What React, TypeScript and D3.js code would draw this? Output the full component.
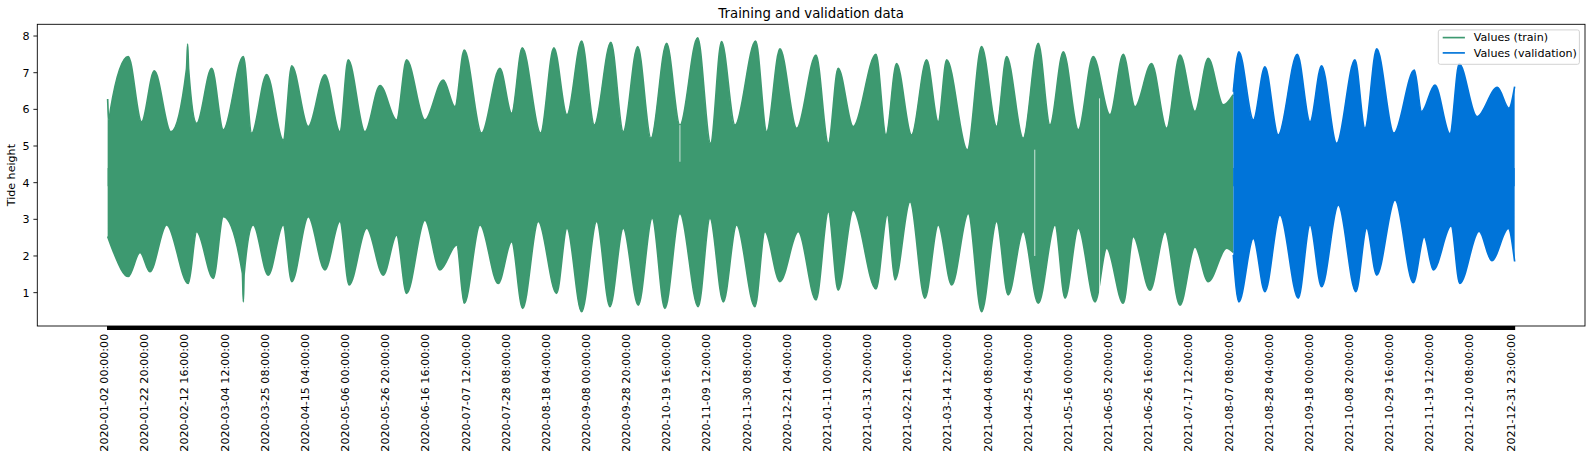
import * as d3 from "d3";

// tide record: hourly samples from 2020-01-02 00:00 to 2021-12-31 23:00
const START = "2020-01-02 00:00:00";
const N_HOURS = 17520;
const TRAIN_HOURS = 14016;

// envelope of the hourly series, read as [day since start, tide height]
const trainUpper: [number, number][] = [
  [0.0, 6.28], [0.6, 5.7], [1.5, 6.0], [10.7, 7.44], [17.6, 5.66], [24.2, 7.05], [32.8, 5.39],
  [40.9, 7.1], [41.5, 7.78], [42.0, 7.1], [46.2, 5.62], [54.0, 7.12], [60.0, 5.44], [70.4, 7.44],
  [74.7, 5.35], [82.5, 6.95], [91.1, 5.16], [95.5, 7.19], [104.1, 5.53], [112.7, 6.94],
  [120.5, 5.39], [124.8, 7.35], [133.5, 5.39], [141.3, 6.65], [149.9, 5.71], [155.1, 7.35],
  [164.6, 5.71], [174.1, 6.8], [180.2, 6.07], [185.0, 7.62], [194.0, 5.35], [203.5, 7.12],
  [209.6, 5.89], [215.1, 7.68], [224.6, 5.35], [231.5, 7.68], [238.3, 5.85], [245.9, 7.86],
  [252.5, 5.57], [261.1, 7.83], [267.5, 5.39], [275.0, 7.71], [281.9, 5.21], [290.0, 7.8],
  [296.9, 5.57], [306.1, 7.95], [312.8, 5.07], [318.5, 7.85], [325.5, 5.57], [336.2, 7.86],
  [341.9, 5.39], [348.8, 7.65], [357.5, 5.48], [367.5, 7.48], [373.9, 5.07], [379.0, 7.12],
  [386.8, 5.53], [398.6, 7.5], [403.8, 5.3], [409.3, 7.25], [417.1, 5.3], [424.9, 7.35],
  [430.9, 5.66], [435.3, 7.35], [446.0, 4.89], [453.4, 7.71], [461.2, 5.53], [466.4, 7.44],
  [475.0, 5.21], [482.8, 7.8], [488.9, 5.57], [495.8, 7.57], [503.6, 5.44], [511.3, 7.44],
  [520.0, 5.85], [526.9, 7.5], [533.0, 6.07], [541.6, 7.25], [549.4, 5.48], [556.3, 7.48],
  [564.1, 5.94], [571.0, 7.39], [578.8, 6.12], [583.96, 6.4],
];
const trainLower: [number, number][] = [
  [0.0, 2.53], [2.7, 2.15], [10.7, 1.44], [16.8, 2.1], [21.9, 1.57], [30.6, 2.85], [41.8, 1.25],
  [46.2, 2.66], [54.8, 1.39], [60.0, 3.07], [69.9, 1.53], [70.4, 0.75], [70.8, 1.5], [75.5, 2.85],
  [83.3, 1.48], [91.1, 2.85], [95.5, 1.3], [104.1, 3.07], [112.7, 1.62], [120.5, 2.94],
  [125.3, 1.21], [134.4, 2.76], [143.0, 1.48], [149.9, 2.57], [155.1, 0.98], [164.6, 2.98],
  [172.4, 1.62], [181.1, 2.3], [185.0, 0.71], [193.2, 2.85], [202.6, 1.25], [209.6, 2.39],
  [215.3, 0.57], [223.4, 2.94], [232.9, 0.98], [238.3, 2.76], [245.9, 0.48], [253.7, 2.94],
  [260.6, 0.62], [267.5, 2.76], [275.3, 0.66], [282.5, 3.03], [289.1, 0.57], [296.9, 3.16],
  [306.4, 0.62], [312.5, 3.03], [319.4, 0.75], [326.3, 2.85], [335.8, 0.62], [341.0, 2.66],
  [348.8, 1.3], [358.3, 2.66], [367.5, 0.8], [373.9, 3.21], [379.0, 1.07], [386.8, 3.25],
  [398.6, 1.1], [404.5, 3.12], [408.5, 1.35], [416.3, 3.48], [424.0, 0.85], [430.9, 2.85],
  [437.9, 1.21], [446.5, 3.16], [453.4, 0.48], [461.2, 2.94], [467.2, 0.94], [475.0, 2.66],
  [482.8, 0.71], [491.5, 2.85], [496.7, 0.85], [503.6, 2.76], [512.3, 0.75], [518.3, 2.21],
  [526.9, 0.71], [532.1, 2.53], [540.8, 1.07], [548.6, 2.66], [556.3, 0.66], [564.1, 2.25],
  [571.0, 1.3], [580.5, 2.21], [583.96, 2.1],
];
const validUpper: [number, number][] = [
  [584.0, 6.48], [586.9, 7.57], [594.4, 5.71], [600.4, 7.16], [607.3, 5.3], [617.2, 7.5],
  [623.8, 5.66], [629.8, 7.19], [637.6, 5.07], [647.1, 7.35], [652.3, 5.48], [658.4, 7.65],
  [667.3, 5.35], [677.9, 7.07], [681.7, 5.94], [688.6, 6.66], [696.4, 5.33], [701.2, 7.24],
  [710.4, 5.8], [721.0, 6.6], [727.0, 6.03], [729.96, 6.62],
];
const validLower: [number, number][] = [
  [584.0, 2.03], [586.9, 0.75], [594.4, 2.48], [600.4, 1.03], [608.2, 3.12], [617.7, 0.85],
  [623.8, 2.85], [629.8, 1.16], [638.5, 3.39], [647.6, 1.03], [653.2, 2.76], [658.4, 1.48],
  [667.9, 3.53], [677.4, 1.27], [683.0, 2.52], [687.8, 1.62], [697.0, 2.82], [701.5, 1.25],
  [711.5, 2.68], [718.1, 1.87], [726.7, 2.75], [729.96, 1.85],
];
// missing stretches: [day, low, high]
const gaps: [number, number, number][] = [
  [296.9, 4.57, 5.57], [481.0, 2.0, 4.9], [514.6, 0.8, 6.3],
];

const xLabels = [
  "2020-01-02 00:00:00", "2020-01-22 20:00:00", "2020-02-12 16:00:00", "2020-03-04 12:00:00",
  "2020-03-25 08:00:00", "2020-04-15 04:00:00", "2020-05-06 00:00:00", "2020-05-26 20:00:00",
  "2020-06-16 16:00:00", "2020-07-07 12:00:00", "2020-07-28 08:00:00", "2020-08-18 04:00:00",
  "2020-09-08 00:00:00", "2020-09-28 20:00:00", "2020-10-19 16:00:00", "2020-11-09 12:00:00",
  "2020-11-30 08:00:00", "2020-12-21 04:00:00", "2021-01-11 00:00:00", "2021-01-31 20:00:00",
  "2021-02-21 16:00:00", "2021-03-14 12:00:00", "2021-04-04 08:00:00", "2021-04-25 04:00:00",
  "2021-05-16 00:00:00", "2021-06-05 20:00:00", "2021-06-26 16:00:00", "2021-07-17 12:00:00",
  "2021-08-07 08:00:00", "2021-08-28 04:00:00", "2021-09-18 00:00:00", "2021-10-08 20:00:00",
  "2021-10-29 16:00:00", "2021-11-19 12:00:00", "2021-12-10 08:00:00", "2021-12-31 23:00:00",
];
const yTicks = [1, 2, 3, 4, 5, 6, 7, 8];

const TRAIN_COLOR = "#3D9970";
const VALID_COLOR = "#0074D9";
const FONT = "DejaVu Sans, sans-serif";

const W = 1595;
const H = 459;
const left = 37.3, right = 1585, top = 24.3, bottom = 326;

export default function App() {
  const last = N_HOURS - 1;
  const x = d3.scaleLinear().domain([-0.05 * last, 1.05 * last]).range([left, right]);
  const y = d3.scaleLinear().domain([0.09, 8.32]).range([bottom, top]);

  const parse = d3.utcParse("%Y-%m-%d %H:%M:%S");
  const t0 = parse(START)!.getTime();
  const hourOf = (s: string) => (parse(s)!.getTime() - t0) / 3600000;

  // each half of the band is filled from the middle of the range out to its envelope
  const half = (base: number) => d3.area<[number, number]>()
    .x(d => x(d[0] * 24))
    .y0(y(base))
    .y1(d => y(d[1]))
    .curve(d3.curveMonotoneX);
  const edge = d3.line<[number, number]>()
    .x(d => x(d[0] * 24))
    .y(d => y(d[1]))
    .curve(d3.curveMonotoneX);

  const series = [
    { key: "train", color: TRAIN_COLOR, up: trainUpper, lo: trainLower },
    { key: "valid", color: VALID_COLOR, up: validUpper, lo: validLower },
  ];

  const tickPath = d3.range(N_HOURS).map(i => `M${x(i).toFixed(2)},${bottom}v3.9`).join("");

  return (
    <svg width={W} height={H} style={{ position: "absolute", left: 0, top: 0, display: "block" }}
      fontFamily={FONT}>
      <rect width={W} height={H} fill="#fff" />
      <text x={(left + right) / 2} y={17.8} textAnchor="middle" fontSize={13.3}>
        Training and validation data
      </text>

      {series.map(s => (
        <g key={s.key}>
          <path d={half(3.9)(s.up) ?? ""} fill={s.color} />
          <path d={half(4.4)(s.lo) ?? ""} fill={s.color} />
          <path d={edge(s.up) ?? ""} fill="none" stroke={s.color} strokeWidth={1.67} />
          <path d={edge(s.lo) ?? ""} fill="none" stroke={s.color} strokeWidth={1.67} />
        </g>
      ))}
      {gaps.map((g, i) => (
        <line key={i} x1={x(g[0] * 24)} x2={x(g[0] * 24)} y1={y(g[2])} y2={y(g[1])}
          stroke="#fff" strokeWidth={1} opacity={0.75} />
      ))}
      <desc>{`train ${TRAIN_HOURS} h, validation ${N_HOURS - TRAIN_HOURS} h`}</desc>

      {/* y axis */}
      {yTicks.map(t => (
        <g key={t}>
          <line x1={left - 3.9} x2={left} y1={y(t)} y2={y(t)} stroke="#000" strokeWidth={0.89} />
          <text x={left - 7.8} y={y(t)} dy="0.35em" textAnchor="end" fontSize={11.1}>{t}</text>
        </g>
      ))}
      <text transform={`translate(15.3,${(top + bottom) / 2}) rotate(-90)`} textAnchor="middle"
        fontSize={11.1}>Tide height</text>

      {/* x axis: one tick per hourly category */}
      <path d={tickPath} stroke="#000" strokeWidth={0.89} fill="none" />
      {xLabels.map(s => {
        const px = x(hourOf(s));
        return (
          <text key={s} transform={`translate(${px + 0.5},${bottom + 7.8}) rotate(-90)`}
            textAnchor="end" fontSize={11.1}>{s}</text>
        );
      })}

      <rect x={left} y={top} width={right - left} height={bottom - top} fill="none"
        stroke="#000" strokeWidth={0.89} />

      {/* legend */}
      <g>
        <rect x={1438.3} y={29.9} width={141.1} height={34.4} rx={2} fill="#fff" fillOpacity={0.8}
          stroke="#ccc" strokeWidth={0.89} />
        <line x1={1442.7} x2={1464.9} y1={37.6} y2={37.6} stroke={TRAIN_COLOR} strokeWidth={1.67} />
        <text x={1473.8} y={37.6} dy="0.35em" fontSize={11.1}>Values (train)</text>
        <line x1={1442.7} x2={1464.9} y1={52.9} y2={52.9} stroke={VALID_COLOR} strokeWidth={1.67} />
        <text x={1473.8} y={52.9} dy="0.35em" fontSize={11.1}>Values (validation)</text>
      </g>
    </svg>
  );
}
